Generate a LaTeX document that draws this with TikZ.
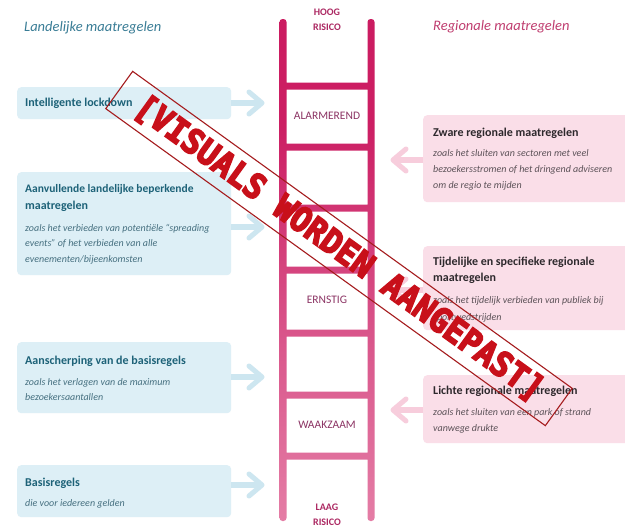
\documentclass[tikz,border=0pt]{standalone}
\usepackage{fontspec}
\setmainfont{Carlito}
\newfontfamily\stampfont[FakeBold=5]{DejaVu Sans Mono}
\usetikzlibrary{calc}
\definecolor{blueFill}{RGB}{221,239,246}
\definecolor{blueArrow}{RGB}{205,230,240}
\definecolor{tealTitle}{RGB}{29,98,120}
\definecolor{tealText}{RGB}{70,112,128}
\definecolor{headTeal}{RGB}{58,125,150}
\definecolor{pinkFill}{RGB}{250,222,232}
\definecolor{pinkArrow}{RGB}{247,205,220}
\definecolor{darkTitle}{RGB}{45,40,44}
\definecolor{grayText}{RGB}{92,82,88}
\definecolor{headPink}{RGB}{192,62,112}
\definecolor{ladLabel}{RGB}{140,52,100}
\definecolor{riskLabel}{RGB}{172,40,98}
\definecolor{stampRed}{RGB}{200,16,26}
\definecolor{stampLine}{RGB}{165,28,30}
\pgfdeclareverticalshading{laddershade}{100bp}{rgb(0bp)=(0.95,0.73,0.82); rgb(15bp)=(0.92,0.58,0.71); rgb(44bp)=(0.85,0.33,0.54); rgb(64bp)=(0.80,0.12,0.39); rgb(100bp)=(0.79,0.08,0.35)}
\tikzset{
  lbox/.style={fill=blueFill, rounded corners=4pt, anchor=north west, inner sep=0pt},
  rbox/.style={fill=pinkFill, rounded corners=4pt, anchor=north west, inner sep=0pt},
  ln/.style={anchor=west, inner sep=0pt, text height=.65em, text depth=0pt},
  lt/.style={ln, font=\bfseries\fontsize{12}{14}\selectfont, text=tealTitle},
  li/.style={ln, font=\itshape\fontsize{10}{12}\selectfont, text=tealText},
  rt/.style={ln, font=\bfseries\fontsize{12}{14}\selectfont, text=darkTitle},
  ri/.style={ln, font=\itshape\fontsize{10}{12}\selectfont, text=grayText},
  lad/.style={inner sep=0pt, font=\fontsize{11.5}{12}\selectfont, text=ladLabel},
  risk/.style={inner sep=0pt, font=\bfseries\fontsize{10}{15}\selectfont, text=riskLabel, align=center},
  barr/.style={draw=blueArrow, line width=6pt},
  bhead/.style={draw=blueArrow, line width=5pt, line cap=round, line join=round},
  parr/.style={draw=pinkArrow, line width=6pt},
  phead/.style={draw=pinkArrow, line width=5pt, line cap=round, line join=round},
}
\begin{document}
\begin{tikzpicture}[x=1pt,y=-1pt]
\useasboundingbox (0,0) rectangle (625,530);
\fill[white] (0,0) rectangle (625,530);

% headers
\node[anchor=west, inner sep=0pt, font=\itshape\fontsize{14.5}{16}\selectfont, text=headTeal] (hl) at (24,28) {Landelijke maatregelen};
\node[anchor=west, inner sep=0pt, font=\itshape\fontsize{14.5}{16}\selectfont, text=headPink] (hr) at (433,27) {Regionale maatregelen};

% ladder
\begin{scope}
\path[clip, rounded corners=3pt]
  (279.5,19) rectangle (286.5,521)
  (367.5,19) rectangle (374.5,521)
  (283,82.5) rectangle (371,89.5)
  (283,143.5) rectangle (371,150.5)
  (283,204.5) rectangle (371,211.5)
  (283,266.5) rectangle (371,273.5)
  (283,329.5) rectangle (371,336.5)
  (283,391.5) rectangle (371,398.5)
  (283,452.5) rectangle (371,459.5);
\shade[shading=laddershade] (270,15) rectangle (380,525);
\end{scope}
\node[risk] (hoog) at (327,19.5) {HOOG\\RISICO};
\node[risk] (laag) at (327,514.5) {LAAG\\RISICO};
\node[lad] (alarm) at (327,116) {ALARMEREND};
\node[lad] (ernst) at (327,300) {ERNSTIG};
\node[lad] (waak) at (327,425) {WAAKZAAM};

% left boxes
\node[lbox, minimum width=214pt, minimum height=32pt] (L1) at (17,87) {};
\node[lt] (L1a) at (25,103) {Intelligente lockdown};

\node[lbox, minimum width=214pt, minimum height=103pt] (L2) at (17,172) {};
\node[lt, font=\bfseries\fontsize{11.5}{14}\selectfont] (L2a) at (25,189) {Aanvullende landelijke beperkende};
\node[lt] (L2b) at (25,206.5) {maatregelen};
\node[li] (L2c) at (25,228) {zoals het verbieden van potentiële “spreading};
\node[li] (L2d) at (25,243.5) {events” of het verbieden van alle};
\node[li] (L2e) at (25,259) {evenementen/bijeenkomsten};

\node[lbox, minimum width=214pt, minimum height=71pt] (L3) at (17,342) {};
\node[lt] (L3a) at (25,361) {Aanscherping van de basisregels};
\node[li] (L3b) at (25,382) {zoals het verlagen van de maximum};
\node[li] (L3c) at (25,397.5) {bezoekersaantallen};

\node[lbox, minimum width=214pt, minimum height=52pt] (L4) at (17,465) {};
\node[lt] (L4a) at (25,483) {Basisregels};
\node[li] (L4b) at (25,503) {die voor iedereen gelden};

% right boxes
\node[rbox, minimum width=210pt, minimum height=87pt] (R1) at (423,115) {};
\node[rt] (R1a) at (433,133) {Zware regionale maatregelen};
\node[ri] (R1b) at (433,153) {zoals het sluiten van sectoren met veel};
\node[ri] (R1c) at (433,169) {bezoekersstromen of het dringend adviseren};
\node[ri] (R1d) at (433,185) {om de regio te mijden};

\node[rbox, minimum width=210pt, minimum height=84pt] (R2) at (423,246) {};
\node[rt] (R2a) at (433,262) {Tijdelijke en specifieke regionale};
\node[rt] (R2b) at (433,278.5) {maatregelen};
\node[ri] (R2c) at (433,300) {zoals het tijdelijk verbieden van publiek bij};
\node[ri] (R2d) at (433,317) {sportwedstrijden};

\node[rbox, minimum width=210pt, minimum height=68pt] (R3) at (423,375) {};
\node[rt] (R3a) at (433,391) {Lichte regionale maatregelen};
\node[ri] (R3b) at (433,412) {zoals het sluiten van een park  of strand};
\node[ri] (R3c) at (433,428) {vanwege drukte};

% arrows left (pointing right)
\coordinate (L1t) at (262,103);
\coordinate (L2t) at (262,227);
\coordinate (L3t) at (262,377);
\coordinate (L4t) at (262,485);
\foreach \b in {L1,L2,L3,L4}{
  \draw[barr] (\b.east |- \b t) -- ($(\b t)+(-3,0)$);
  \draw[bhead] ($(\b t)+(-13,-11)$) -- (\b t) -- ($(\b t)+(-13,11)$);
}
% arrows right (pointing left)
\coordinate (R1t) at (393,160);
\coordinate (R2t) at (393,290);
\coordinate (R3t) at (393,410);
\foreach \b in {R1,R2,R3}{
  \draw[parr] (\b.west |- \b t) -- ($(\b t)+(3,0)$);
  \draw[phead] ($(\b t)+(13,-11)$) -- (\b t) -- ($(\b t)+(13,11)$);
}

% stamp
\node[draw=stampLine, line width=1.1pt, rotate=-35.8, minimum width=542pt, minimum height=46pt, inner sep=0pt, text=stampRed, font=\stampfont\bfseries\fontsize{34}{36}\selectfont] (stamp) at (339,248.5) {\scalebox{0.93}[1]{[VISUALS WORDEN AANGEPAST]}};
\end{tikzpicture}
\end{document}
